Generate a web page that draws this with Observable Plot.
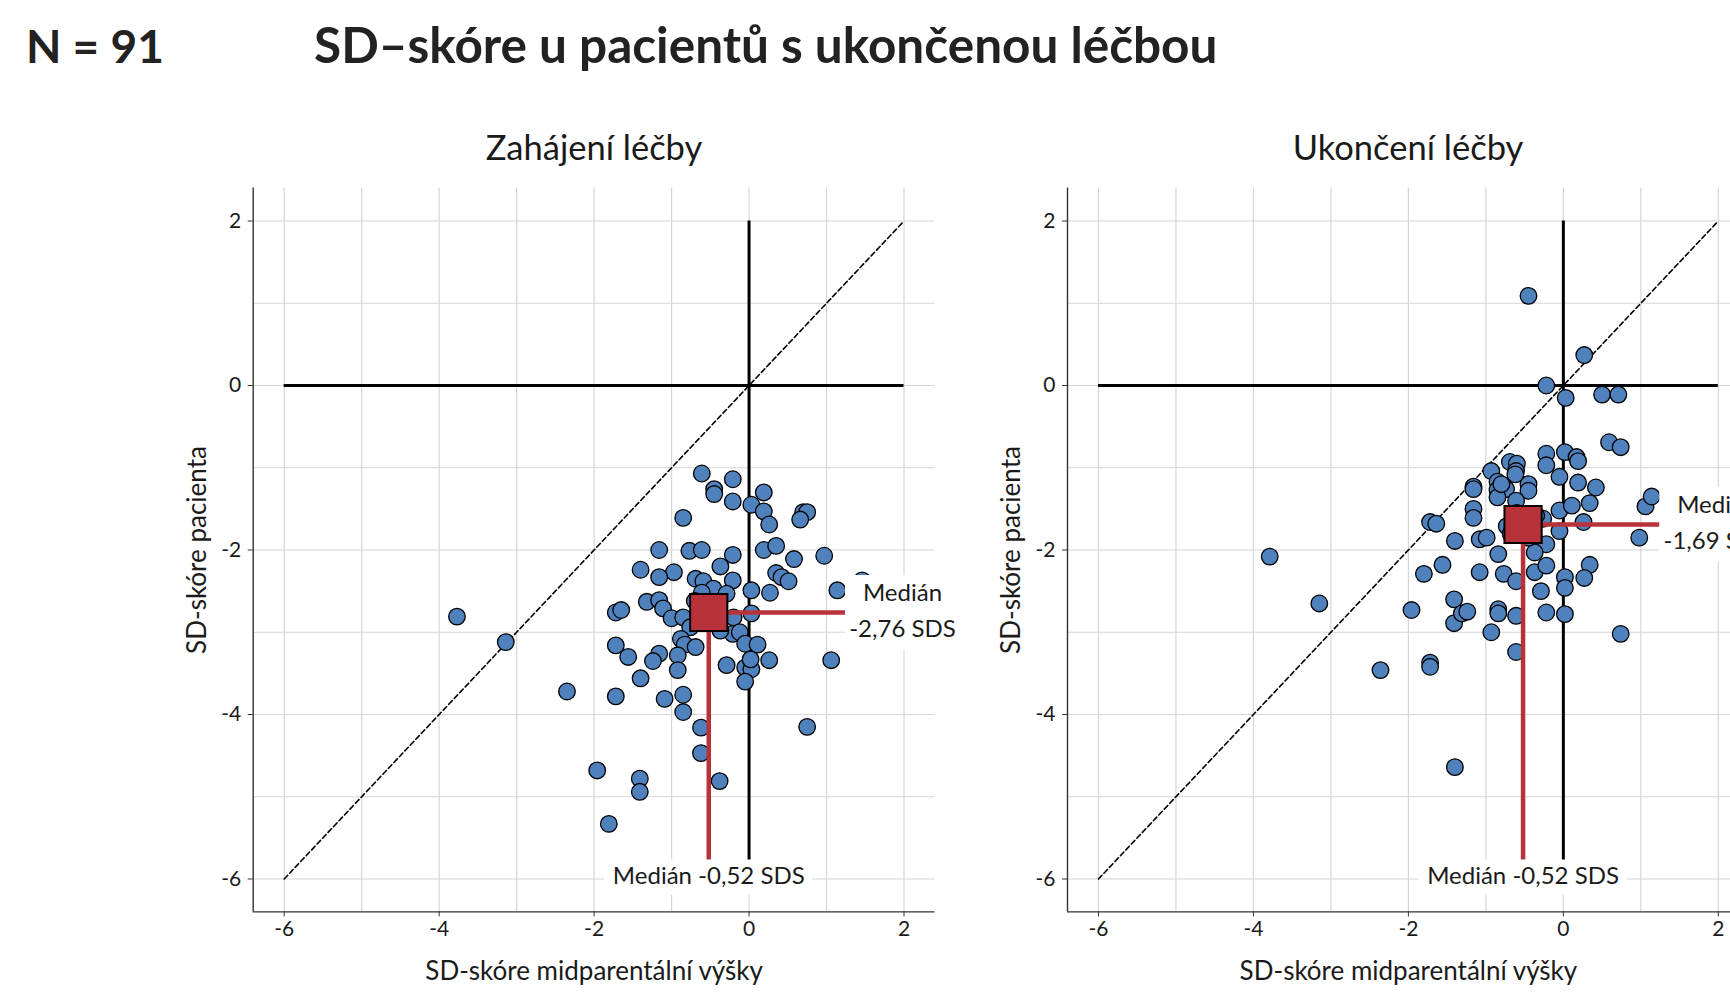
<!DOCTYPE html>
<html><head><meta charset="utf-8">
<script src="https://cdn.jsdelivr.net/npm/d3@7"></script>
<script src="https://cdn.jsdelivr.net/npm/@observablehq/plot@0.6"></script>
<style>
html,body{margin:0;padding:0;background:#fff;overflow:hidden;width:1730px;height:1007px;}
body{position:relative;font-family:Lato,"Open Sans",sans-serif;color:#1a1a1a;}
.hdr{position:absolute;font-weight:700;line-height:1.2;white-space:nowrap;color:#222;}
.ptitle{position:absolute;font-size:34.5px;line-height:1.2;white-space:nowrap;transform:translateX(-50%);}
.panel{position:absolute;top:170px;}
</style></head><body>
<div class="hdr" style="left:26px;top:18px;font-size:46px">N = 91</div>
<div class="hdr" style="left:314px;top:15px;font-size:49.5px">SD–skóre u pacientů s ukončenou léčbou</div>
<div class="ptitle" id="t1" style="left:594px;top:126px"></div>
<div class="ptitle" id="t2" style="left:1408px;top:126px"></div>
<div class="panel" id="p1" style="left:0px"></div>
<div class="panel" id="p2" style="left:985px"></div>
<script>
// ---- data ----
const panelTitles = ["Zahájení léčby", "Ukončení léčby"];
const xTitle = "SD-skóre midparentální výšky";
const yTitle = "SD-skóre pacienta";
const tickValues = [-6, -4, -2, 0, 2];
const gridValues = [-6, -5, -4, -3, -2, -1, 0, 1, 2];
const axisDomain = [-6.4, 2.4];
const crossExtent = [-6, 2];
const diagonalEnds = [-6, 2];

// Zahájení léčby (start of treatment)
const startMidparental = [-0.61,-0.21,-0.45,-0.45,-0.21,0.03,0.19,0.19,0.26,-0.85,0.70,0.75,0.66,-1.16,-0.77,-0.61,-0.21,0.19,0.35,0.58,0.97,-0.37,-1.40,-0.97,-1.16,-0.69,-0.59,-0.21,0.35,0.42,0.51,0.03,0.27,1.14,1.46,-0.46,-0.29,-0.61,-1.32,-1.16,-1.72,-1.65,-1.11,-1.00,-0.85,-0.76,-0.20,0.03,-0.21,-0.12,-0.37,-0.88,-0.83,-0.69,-0.05,0.11,-1.72,-1.56,-1.16,-1.24,-0.92,-0.92,-0.29,-0.05,0.03,0.02,0.26,1.06,-1.40,-0.05,-2.35,-1.72,-1.09,-0.85,-0.85,0.75,-0.62,-0.62,-1.96,-1.41,-1.41,-0.38,-1.81,-3.77,-3.14,-0.70,-0.45,-0.55,-0.40,-0.65,-0.50];
const startPatient = [-1.07,-1.14,-1.26,-1.32,-1.41,-1.45,-1.30,-1.53,-1.69,-1.61,-1.54,-1.54,-1.63,-2.00,-2.01,-2.00,-2.06,-2.00,-1.95,-2.11,-2.07,-2.20,-2.24,-2.27,-2.33,-2.35,-2.38,-2.37,-2.28,-2.33,-2.38,-2.49,-2.52,-2.49,-2.37,-2.47,-2.53,-2.52,-2.63,-2.61,-2.76,-2.73,-2.71,-2.83,-2.82,-2.94,-2.82,-2.77,-3.02,-3.00,-2.98,-3.08,-3.15,-3.18,-3.14,-3.15,-3.16,-3.30,-3.26,-3.35,-3.28,-3.46,-3.40,-3.43,-3.45,-3.33,-3.34,-3.34,-3.56,-3.60,-3.72,-3.78,-3.81,-3.76,-3.97,-4.15,-4.16,-4.47,-4.68,-4.78,-4.94,-4.81,-5.33,-2.81,-3.12,-2.62,-2.65,-2.85,-2.80,-2.80,-2.70];

// Ukončení léčby (end of treatment)
const endMidparental = [-0.45,0.27,-0.22,0.03,0.50,0.71,0.59,0.74,-0.22,-0.22,0.02,0.17,0.19,-0.69,-0.60,-0.61,-0.93,-0.05,0.19,0.42,-0.85,-0.85,-0.74,-0.85,-1.16,-1.16,-0.45,-0.45,-0.61,-1.16,-1.16,-0.05,0.11,0.34,1.06,1.14,-1.72,-1.64,-1.40,-1.08,-0.99,-0.73,-0.26,-0.05,0.26,-0.22,-0.37,-0.84,0.98,-1.56,0.34,-1.80,-1.08,-0.77,-0.61,-0.37,-0.22,0.02,0.02,0.27,-0.29,-1.41,-1.41,-1.31,-1.24,-0.84,-0.84,-0.61,-0.22,0.02,-0.93,0.74,-0.61,-1.72,-1.72,-2.36,-1.96,-3.15,-3.79,-1.40,-0.60,-0.50,-0.40,-0.55,-0.65,-0.45,-0.52,-0.35,-0.68,-0.80,-0.62];
const endPatient = [1.09,0.37,0.00,-0.15,-0.11,-0.11,-0.69,-0.75,-0.83,-0.97,-0.81,-0.87,-0.92,-0.93,-0.95,-1.04,-1.04,-1.11,-1.18,-1.24,-1.17,-1.27,-1.26,-1.36,-1.23,-1.26,-1.20,-1.28,-1.40,-1.50,-1.61,-1.52,-1.46,-1.43,-1.47,-1.35,-1.66,-1.68,-1.89,-1.87,-1.85,-1.71,-1.62,-1.77,-1.66,-1.93,-2.03,-2.05,-1.85,-2.18,-2.18,-2.29,-2.27,-2.29,-2.38,-2.27,-2.19,-2.33,-2.46,-2.34,-2.50,-2.60,-2.89,-2.77,-2.75,-2.72,-2.77,-2.80,-2.76,-2.78,-3.00,-3.02,-3.24,-3.37,-3.42,-3.46,-2.73,-2.65,-2.08,-4.64,-1.55,-1.62,-1.75,-1.80,-1.62,-1.85,-1.69,-1.58,-1.80,-1.20,-1.08];

const medianMidparental = [-0.52, -0.52];
const medianPatient = [-2.76, -1.69];
const medianPatientLabels = ["Medián\n-2,76 SDS", "Medián\n-1,69 SDS"];
const medianMidparentalLabels = ["Medián -0,52 SDS", "Medián -0,52 SDS"];
const medianLabelX = 1.98;

// ---- style ----
const RED = "#B8323A", BLUE = "#4F81BD", GRID = "#d6d6d6", INK = "#1a1a1a";

function panel(xs, ys, mx, my, yLab, xLab, marginLeft, width) {
  const pts = xs.map((x, i) => ({x, y: ys[i]}));
  return Plot.plot({
    width, height: 830,
    marginLeft, marginRight: width - marginLeft - 681.8,
    marginTop: 17.6, marginBottom: 88.6,
    x: {domain: axisDomain},
    y: {domain: axisDomain},
    style: {fontFamily: "Lato, 'Open Sans', sans-serif", fontSize: "21px", color: INK,
            background: "transparent", overflow: "visible", maxWidth: "none"},
    marks: [
      Plot.gridX(gridValues, {stroke: GRID, strokeOpacity: 1, strokeWidth: 1.2}),
      Plot.gridY(gridValues, {stroke: GRID, strokeOpacity: 1, strokeWidth: 1.2}),
      Plot.ruleY([0], {x1: () => crossExtent[0], x2: () => crossExtent[1], stroke: "black", strokeWidth: 3}),
      Plot.ruleX([0], {y1: () => crossExtent[1], y2: () => crossExtent[0], stroke: "black", strokeWidth: 3}),
      Plot.line(diagonalEnds, {x: d => d, y: d => d, stroke: "black", strokeWidth: 1.6, strokeDasharray: "5,3"}),
      Plot.dot(pts, {x: "x", y: "y", r: 8.3, fill: BLUE, stroke: "black", strokeWidth: 1.3}),
      Plot.ruleY([my], {x1: () => mx, x2: () => medianLabelX, stroke: RED, strokeWidth: 4.5}),
      Plot.ruleX([mx], {y1: () => my, y2: () => crossExtent[0], stroke: RED, strokeWidth: 4.5}),
      Plot.rect([yLab], {x1: () => medianLabelX, x2: () => medianLabelX, y1: () => my, y2: () => my,
        fill: "white", insetLeft: -57, insetRight: -60, insetTop: -37, insetBottom: -38}),
      Plot.text([yLab], {x: () => medianLabelX, y: () => my, text: d => d, fontSize: 24,
        lineHeight: 1.52, lineAnchor: "middle", textAnchor: "middle", dy: -5, fill: INK}),
      Plot.rect([xLab], {x1: () => mx, x2: () => mx, y1: () => crossExtent[0], y2: () => crossExtent[0],
        fill: "white", insetLeft: -104, insetRight: -104, insetTop: -19, insetBottom: -16}),
      Plot.text([xLab], {x: () => mx, y: () => crossExtent[0], text: d => d, fontSize: 24,
        lineAnchor: "middle", textAnchor: "middle", dy: -3, fill: INK}),
      Plot.dot([my], {x: () => mx, y: () => my, symbol: "square", r: 21, fill: RED, stroke: "black", strokeWidth: 2}),
      Plot.ruleX([axisDomain[0]], {stroke: "#333", strokeWidth: 1.4}),
      Plot.ruleY([axisDomain[0]], {stroke: "#333", strokeWidth: 1.4}),
      Plot.axisX({ticks: tickValues, tickFormat: d => String(d), tickSize: 5, tickPadding: 4, fontSize: 21, label: null, stroke: "#333"}),
      Plot.axisY({ticks: tickValues, tickFormat: d => String(d), tickSize: 5, tickPadding: 7, fontSize: 21, label: null, stroke: "#333"}),
      Plot.text([xTitle], {frameAnchor: "bottom", text: d => d, dy: 60, lineAnchor: "middle", textAnchor: "middle", fontSize: 26, fill: INK}),
      Plot.text([yTitle], {frameAnchor: "left", text: d => d, dx: -56, rotate: -90, lineAnchor: "middle", textAnchor: "middle", fontSize: 26, fill: INK})
    ]
  });
}

document.getElementById("t1").textContent = panelTitles[0];
document.getElementById("t2").textContent = panelTitles[1];
document.getElementById("p1").appendChild(panel(startMidparental, startPatient, medianMidparental[0], medianPatient[0],
  medianPatientLabels[0], medianMidparentalLabels[0], 252.7, 985));
document.getElementById("p2").appendChild(panel(endMidparental, endPatient, medianMidparental[1], medianPatient[1],
  medianPatientLabels[1], medianMidparentalLabels[1], 82, 814));
</script>
</body></html>
